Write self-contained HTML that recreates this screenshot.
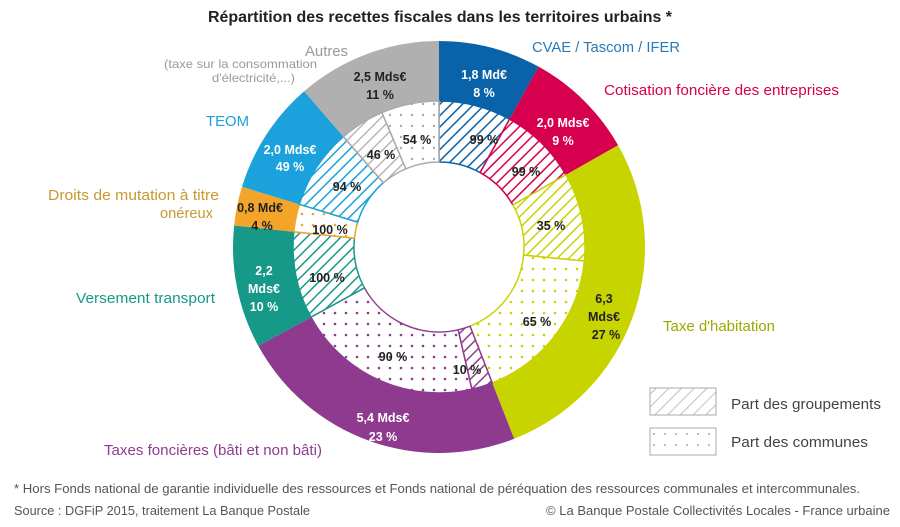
<!DOCTYPE html>
<html><head><meta charset="utf-8">
<style>
html,body{margin:0;padding:0;background:#fff;}
svg{display:block;font-family:"Liberation Sans",sans-serif;}
.lb{font-weight:bold;font-size:12.5px;text-anchor:middle;}
.w{fill:#fff}.d{fill:#222}
.in{font-weight:bold;font-size:12.5px;text-anchor:middle;fill:#222}
</style></head><body>
<svg id="s" width="900" height="527" viewBox="0 0 900 527">
<defs>
<pattern id="h0" width="8" height="8" patternUnits="userSpaceOnUse" patternTransform="rotate(45)"><rect width="8" height="8" fill="#fff"/><line x1="0" y1="0" x2="0" y2="8" stroke="#0a62a8" stroke-width="3"/></pattern>
<pattern id="h1" width="8" height="8" patternUnits="userSpaceOnUse" patternTransform="rotate(45)"><rect width="8" height="8" fill="#fff"/><line x1="0" y1="0" x2="0" y2="8" stroke="#d6004f" stroke-width="3"/></pattern>
<pattern id="h2" width="8" height="8" patternUnits="userSpaceOnUse" patternTransform="rotate(45)"><rect width="8" height="8" fill="#fff"/><line x1="0" y1="0" x2="0" y2="8" stroke="#c8d400" stroke-width="3"/></pattern>
<pattern id="h3" width="8" height="8" patternUnits="userSpaceOnUse" patternTransform="rotate(45)"><rect width="8" height="8" fill="#fff"/><line x1="0" y1="0" x2="0" y2="8" stroke="#8e3b8f" stroke-width="3"/></pattern>
<pattern id="h4" width="8" height="8" patternUnits="userSpaceOnUse" patternTransform="rotate(45)"><rect width="8" height="8" fill="#fff"/><line x1="0" y1="0" x2="0" y2="8" stroke="#17998a" stroke-width="3"/></pattern>
<pattern id="h6" width="8" height="8" patternUnits="userSpaceOnUse" patternTransform="rotate(45)"><rect width="8" height="8" fill="#fff"/><line x1="0" y1="0" x2="0" y2="8" stroke="#1ba1db" stroke-width="3"/></pattern>
<pattern id="h7" width="8" height="8" patternUnits="userSpaceOnUse" patternTransform="rotate(45)"><rect width="8" height="8" fill="#fff"/><line x1="0" y1="0" x2="0" y2="8" stroke="#aaa" stroke-width="2.5"/></pattern>
<pattern id="hg" width="9" height="9" patternUnits="userSpaceOnUse" patternTransform="rotate(45)"><rect width="9" height="9" fill="#fff"/><line x1="0" y1="0" x2="0" y2="9" stroke="#aaa" stroke-width="1.5"/></pattern>
<pattern id="d2" width="11" height="11" patternUnits="userSpaceOnUse"><rect width="11" height="11" fill="#fff"/><circle cx="5" cy="5" r="1.3" fill="#c8d400"/></pattern>
<pattern id="d3" width="11" height="11" patternUnits="userSpaceOnUse"><rect width="11" height="11" fill="#fff"/><circle cx="5" cy="5" r="1.3" fill="#8e3b8f"/></pattern>
<pattern id="d5" width="11" height="11" patternUnits="userSpaceOnUse"><rect width="11" height="11" fill="#fff"/><circle cx="5" cy="5" r="1.3" fill="#f3a52a"/></pattern>
<pattern id="d7" width="11" height="11" patternUnits="userSpaceOnUse"><rect width="11" height="11" fill="#fff"/><circle cx="5" cy="5" r="1.2" fill="#aaa"/></pattern>
<pattern id="dg" width="11" height="11" patternUnits="userSpaceOnUse"><rect width="11" height="11" fill="#fff"/><circle cx="5" cy="5" r="1" fill="#aaa"/></pattern>
</defs>
<g id="ring"></g>

<text x="440" y="22" text-anchor="middle" font-weight="bold" font-size="15.5" fill="#222" textLength="464" lengthAdjust="spacingAndGlyphs">Répartition des recettes fiscales dans les territoires urbains *</text>

<g font-size="14.5" lengthAdjust="spacingAndGlyphs">
<text x="305" y="56" fill="#9a9a9a" textLength="43" lengthAdjust="spacingAndGlyphs">Autres</text>
<text x="164" y="68" fill="#9a9a9a" font-size="12" textLength="153" lengthAdjust="spacingAndGlyphs">(taxe sur la consommation</text>
<text x="212" y="82" fill="#9a9a9a" font-size="12" textLength="83" lengthAdjust="spacingAndGlyphs">d'électricité,...)</text>
<text x="532" y="52" fill="#2a7ab8" textLength="148" lengthAdjust="spacingAndGlyphs">CVAE / Tascom / IFER</text>
<text x="604" y="95" fill="#d6004f" textLength="235" lengthAdjust="spacingAndGlyphs">Cotisation foncière des entreprises</text>
<text x="206" y="126" fill="#1ba1db" textLength="43" lengthAdjust="spacingAndGlyphs">TEOM</text>
<text x="48" y="200" fill="#c9982f" textLength="171" lengthAdjust="spacingAndGlyphs">Droits de mutation à titre</text>
<text x="160" y="218" fill="#c9982f" textLength="53" lengthAdjust="spacingAndGlyphs">onéreux</text>
<text x="76" y="303" fill="#17998a" textLength="139" lengthAdjust="spacingAndGlyphs">Versement transport</text>
<text x="663" y="331" fill="#9aa800" textLength="112" lengthAdjust="spacingAndGlyphs">Taxe d'habitation</text>
<text x="104" y="455" fill="#8e3b8f" textLength="218" lengthAdjust="spacingAndGlyphs">Taxes foncières (bâti et non bâti)</text>
</g>

<g class="lb">
<text x="380" y="81" class="d">2,5 Mds€</text><text x="380" y="99" class="d">11 %</text>
<text x="484" y="79" class="w">1,8 Md€</text><text x="484" y="97" class="w">8 %</text>
<text x="563" y="127" class="w">2,0 Mds€</text><text x="563" y="145" class="w">9 %</text>
<text x="604" y="303" class="d">6,3</text><text x="604" y="321" class="d">Mds€</text><text x="606" y="339" class="d">27 %</text>
<text x="383" y="422" class="w">5,4 Mds€</text><text x="383" y="441" class="w">23 %</text>
<text x="264" y="275" class="w">2,2</text><text x="264" y="293" class="w">Mds€</text><text x="264" y="311" class="w">10 %</text>
<text x="260" y="212" class="d">0,8 Md€</text><text x="262" y="230" class="d">4 %</text>
<text x="290" y="154" class="w">2,0 Mds€</text><text x="290" y="171" class="w">49 %</text>
</g>
<g class="in">
<text x="417" y="144">54 %</text><text x="484" y="144">99 %</text><text x="381" y="159">46 %</text>
<text x="526" y="176">99 %</text><text x="347" y="191">94 %</text><text x="551" y="230">35 %</text>
<text x="330" y="234">100 %</text><text x="327" y="282">100 %</text><text x="537" y="326">65 %</text>
<text x="393" y="361">90 %</text><text x="467" y="374">10 %</text>
</g>

<rect x="650" y="388" width="66" height="27" fill="url(#hg)" stroke="#aaa" stroke-width="1"/>
<rect x="650" y="428" width="66" height="27" fill="url(#dg)" stroke="#aaa" stroke-width="1"/>
<text x="731" y="409" font-size="14.5" fill="#444" textLength="150" lengthAdjust="spacingAndGlyphs">Part des groupements</text>
<text x="731" y="447" font-size="14.5" fill="#444" textLength="137" lengthAdjust="spacingAndGlyphs">Part des communes</text>

<text x="14" y="493" font-size="12.5" fill="#555" textLength="846" lengthAdjust="spacingAndGlyphs">* Hors Fonds national de garantie individuelle des ressources et Fonds national de péréquation des ressources communales et intercommunales.</text>
<text x="14" y="515" font-size="12.5" fill="#555" textLength="296" lengthAdjust="spacingAndGlyphs">Source : DGFiP 2015, traitement La Banque Postale</text>
<text x="546" y="515" font-size="12.5" fill="#555" textLength="344" lengthAdjust="spacingAndGlyphs">© La Banque Postale Collectivités Locales - France urbaine</text>
</svg>
<script>
var cx=439,cy=247,R=206,Rm=146,Ri=85;
function pt(r,a){a=a*Math.PI/180;return [cx+r*Math.sin(a),cy-r*Math.cos(a)];}
function arc(r0,r1,a0,a1){var l=(a1-a0)>180?1:0;var p0=pt(r1,a0),p1=pt(r1,a1),p2=pt(r0,a1),p3=pt(r0,a0);
return "M"+p0+"A"+r1+","+r1+" 0 "+l+" 1 "+p1+"L"+p2+"A"+r0+","+r0+" 0 "+l+" 0 "+p3+"Z";}
var g=document.getElementById("ring"),ns="http://www.w3.org/2000/svg";
function add(d,f,s,w){var p=document.createElementNS(ns,"path");p.setAttribute("d",d);p.setAttribute("fill",f);if(s){p.setAttribute("stroke",s);p.setAttribute("stroke-width",w||1.5);}g.appendChild(p);}
var segs=[[0,28.9,"#0a62a8"],[28.9,60.4,"#d6004f"],[60.4,158.6,"#c8d400"],[158.6,241.3,"#8e3b8f"],[241.3,276,"#17998a"],[276,287,"#f3a52a"],[287,319.1,"#1ba1db"],[319.1,360,"#b0b0b0"]];
segs.forEach(function(s){add(arc(Rm,R,s[0],s[1]),s[2]);});
var inner=[[0,28.9,"url(#h0)","#0a62a8"],[28.9,60.4,"url(#h1)","#d6004f"],[60.4,95.5,"url(#h2)","#c8d400"],[95.5,158.6,"url(#d2)","#c8d400"],
[158.6,167,"url(#h3)","#8e3b8f"],[167,241.3,"url(#d3)","#8e3b8f"],[241.3,276,"url(#h4)","#17998a"],[276,287,"url(#d5)","#f3a52a"],
[287,319.1,"url(#h6)","#1ba1db"],[319.1,337,"url(#h7)","#aaa"],[337,360,"url(#d7)","#aaa"]];
inner.forEach(function(s){add(arc(Ri,Rm,s[0],s[1]),s[2],s[3],1.5);});
</script>
</body></html>
